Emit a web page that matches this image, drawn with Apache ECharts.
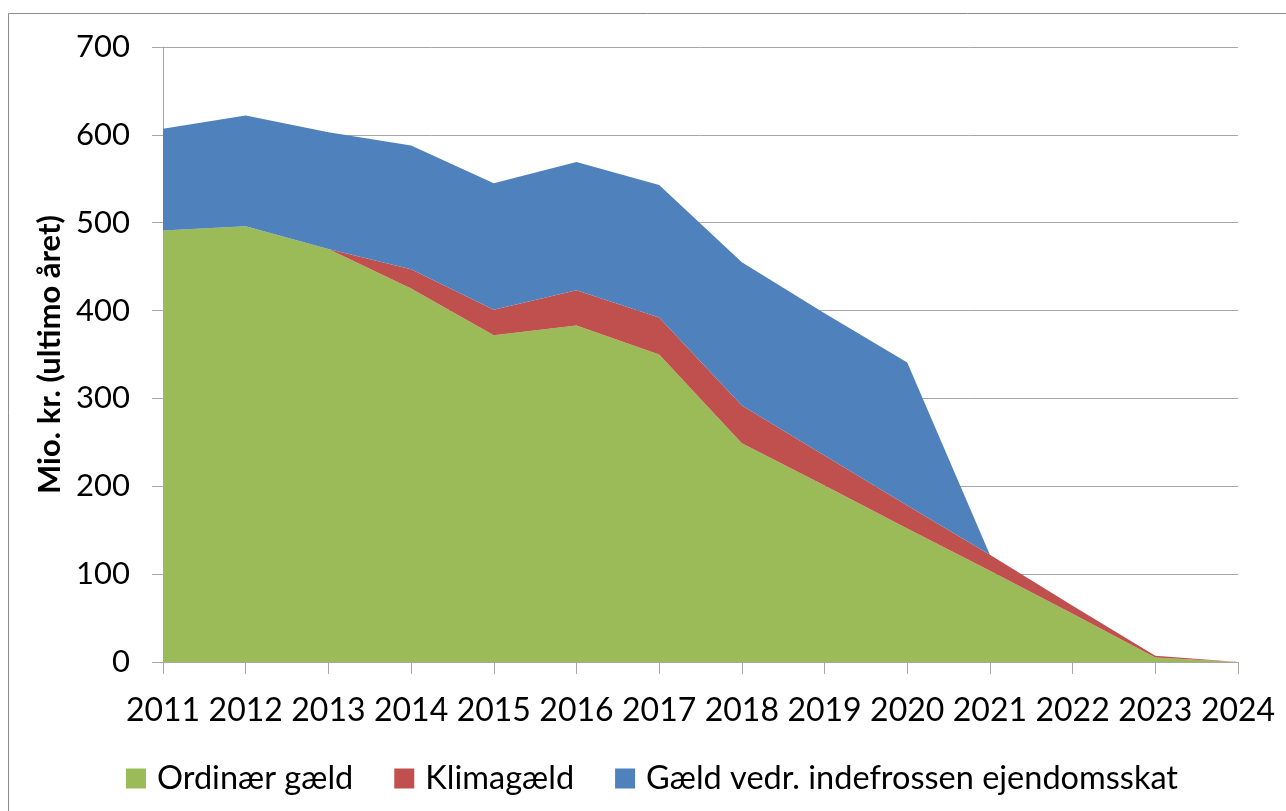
<!DOCTYPE html>
<html>
<head>
  <meta charset="utf-8">
  <title>Gæld</title>
  <style type="text/css">
    html, body { margin: 0; padding: 0; background: #fff; }
    #main { width: 1286px; height: 811px; }
  </style>
</head>
<body>
<div id="main"></div>
<script type="text/javascript" src="https://cdn.jsdelivr.net/npm/echarts@6/dist/echarts.min.js"></script>
<script type="text/javascript">
  var years = ['2011', '2012', '2013', '2014', '2015', '2016', '2017', '2018', '2019', '2020', '2021', '2022', '2023', '2024'];
  var ordinaer = [491, 496, 470, 425, 372, 383, 350, 249, 201, 152, 104, 55, 5, 0];
  var klima = [0, 0, 0, 22, 29, 40, 42, 43, 34, 26, 18, 9, 2, 0];
  var indefrossen = [116, 126, 133, 141, 144, 146, 151, 163, 162, 163, 0, 0, 0, 0];

  var font = 'Lato, "Open Sans", sans-serif';
  var myChart = echarts.init(document.getElementById('main'));

  function areaSeries(name, data, color) {
    return {
      name: name,
      type: 'line',
      stack: 'gaeld',
      data: data,
      symbol: 'none',
      lineStyle: { width: 0 },
      areaStyle: { color: color, opacity: 1 },
      itemStyle: { color: color },
      emphasis: { disabled: true }
    };
  }

  var option = {
    backgroundColor: '#fff',
    animation: false,
    graphic: [{
      type: 'rect',
      shape: { x: 8.5, y: 13.5, width: 1300, height: 820 },
      style: { fill: 'none', stroke: '#8c8c8c', lineWidth: 1 },
      silent: true
    }],
    legend: {
      data: ['Ordinær gæld', 'Klimagæld', 'Gæld vedr. indefrossen ejendomsskat'],
      left: 121,
      top: 757,
      icon: 'rect',
      itemWidth: 20,
      itemHeight: 20,
      itemGap: 41,
      textStyle: { fontFamily: font, fontSize: 32.5, color: '#000', padding: [0, 0, 0, 6] }
    },
    grid: {
      left: 163,
      right: 48,
      top: 47,
      bottom: 149
    },
    xAxis: {
      type: 'category',
      data: years,
      boundaryGap: false,
      axisLine: { lineStyle: { color: '#a6a6a6', width: 1 } },
      axisTick: { show: true, length: 12, alignWithLabel: true, interval: 0, lineStyle: { color: '#a6a6a6' } },
      axisLabel: { fontFamily: font, fontSize: 32, color: '#000', margin: 33, interval: 0 },
      splitLine: { show: false }
    },
    yAxis: {
      type: 'value',
      min: 0,
      max: 700,
      interval: 100,
      name: 'Mio. kr. (ultimo året)',
      nameLocation: 'middle',
      nameGap: 97,
      nameTextStyle: { fontFamily: font, fontSize: 31, fontWeight: 'bold', color: '#000' },
      axisLine: { show: true, lineStyle: { color: '#a6a6a6', width: 1 } },
      axisTick: { show: true, length: 11, lineStyle: { color: '#a6a6a6' } },
      axisLabel: { fontFamily: font, fontSize: 31, color: '#000', margin: 33 },
      splitLine: { show: true, lineStyle: { color: '#a6a6a6', width: 1 } }
    },
    series: [
      areaSeries('Ordinær gæld', ordinaer, '#9BBB59'),
      areaSeries('Klimagæld', klima, '#C0504D'),
      areaSeries('Gæld vedr. indefrossen ejendomsskat', indefrossen, '#4F81BD')
    ]
  };

  myChart.setOption(option);
</script>
</body>
</html>
